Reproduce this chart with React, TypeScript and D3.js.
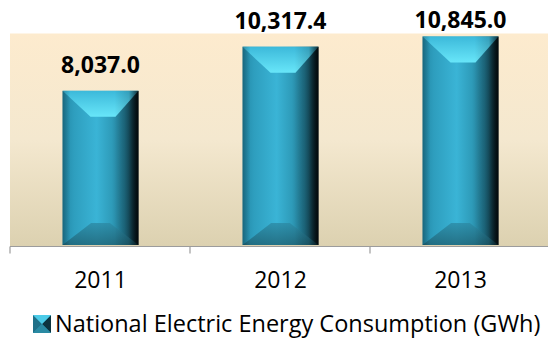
import React from "react";
import * as d3 from "d3";

const categories = ["2011", "2012", "2013"];
const values = [8037.0, 10317.4, 10845.0];
const seriesName = "National Electric Energy Consumption (GWh)";
const yMax = 11000;

const W = 548;
const H = 339;
const plot = { left: 10.5, right: 550.5, top: 33.5, bottom: 246.5 };
const FONT = "'Open Sans', Lato, sans-serif";

export default function App() {
  const x = d3
    .scaleBand<string>()
    .domain(categories)
    .range([plot.left, plot.right])
    .paddingInner(0.578)
    .paddingOuter(0.289);
  const y = d3.scaleLinear().domain([0, yMax]).range([plot.bottom, plot.top]);
  const step = x.step();
  const fmt = d3.format(",.1f");
  const tickXs = d3.range(categories.length + 1).map((i) => plot.left - 0.5 + i * step);

  return (
    <svg
      width={W}
      height={H}
      style={{ position: "absolute", left: 0, top: 0, background: "#fff" }}
      fontFamily={FONT}
    >
      <defs>
        <linearGradient id="bg" x1="0" y1="0" x2="0" y2="1">
          <stop offset="0" stopColor="#FDEBCE" />
          <stop offset="0.5" stopColor="#F4E8CF" />
          <stop offset="1" stopColor="#DCD1B0" />
        </linearGradient>
        <linearGradient id="barSide" x1="0" y1="0" x2="1" y2="0">
          <stop offset="0" stopColor="#2288A6" />
          <stop offset="0.15" stopColor="#2E9EBE" />
          <stop offset="0.45" stopColor="#3AB4D6" />
          <stop offset="0.65" stopColor="#2E9BB9" />
          <stop offset="0.82" stopColor="#1E6D84" />
          <stop offset="1" stopColor="#0A2028" />
        </linearGradient>
        <linearGradient id="barTop" x1="0" y1="0" x2="0" y2="1">
          <stop offset="0" stopColor="#3CB9DA" />
          <stop offset="1" stopColor="#68E6F9" />
        </linearGradient>
        <linearGradient id="barBottom" x1="0" y1="0" x2="0" y2="1">
          <stop offset="0" stopColor="#2C8BA6" />
          <stop offset="1" stopColor="#1F6274" />
        </linearGradient>
        <linearGradient id="barRight" x1="0" y1="0" x2="1" y2="0">
          <stop offset="0" stopColor="#000" stopOpacity="0" />
          <stop offset="0.6" stopColor="#000" stopOpacity="0.15" />
          <stop offset="1" stopColor="#000" stopOpacity="0.75" />
        </linearGradient>
        <linearGradient id="barLeft" x1="0" y1="0" x2="1" y2="0">
          <stop offset="0" stopColor="#000" stopOpacity="0.25" />
          <stop offset="1" stopColor="#000" stopOpacity="0" />
        </linearGradient>
      </defs>

      <rect
        x={plot.left - 0.5}
        y={plot.top}
        width={W - plot.left + 0.5}
        height={plot.bottom - plot.top}
        fill="url(#bg)"
      />

      {categories.map((c, i) => {
        const x0 = x(c)!;
        const bw = x.bandwidth();
        const x1 = x0 + bw;
        const top = y(values[i]);
        const bot = plot.bottom - 1.5;
        const d = 26;
        const db = 22;
        const labelY = Math.max(top - 18, 28);
        return (
          <g key={c}>
            <rect x={x0} y={top} width={bw} height={bot - top} fill="url(#barSide)" />
            <polygon
              points={`${x0},${top} ${x1},${top} ${x1 - d + 3},${top + d} ${x0 + d + 2},${top + d}`}
              fill="url(#barTop)"
            />
            <polygon
              points={`${x0},${bot} ${x1},${bot} ${x1 - db * 1.3},${bot - db} ${x0 + db * 1.3},${bot - db}`}
              fill="url(#barBottom)"
              opacity={0.8}
            />
            <rect x={x0} y={top} width={8} height={bot - top} fill="url(#barLeft)" />
            <rect x={x1 - 24} y={top} width={24} height={bot - top} fill="url(#barRight)" />
            <text
              x={x0 + bw / 2}
              y={labelY}
              textAnchor="middle"
              fontWeight="bold"
              fontSize={23}
              fill="#000"
            >
              {fmt(values[i])}
            </text>
          </g>
        );
      })}

      <line x1={plot.left - 0.5} x2={W} y1={plot.bottom} y2={plot.bottom} stroke="#9C9C9C" strokeWidth={1.2} />
      {tickXs.map((t, i) => (
        <line key={i} x1={t} x2={t} y1={plot.bottom} y2={plot.bottom + 7} stroke="#9C9C9C" strokeWidth={1.2} />
      ))}

      {categories.map((c) => (
        <text key={c} x={x(c)! + x.bandwidth() / 2} y={288} textAnchor="middle" fontSize={23} fill="#000">
          {c}
        </text>
      ))}

      <g>
        <rect x={33} y={315} width={18} height={18} fill="#2A94B2" />
        <polygon points="33,315 42,324 33,333" fill="#1F7088" />
        <polygon points="51,315 42,324 51,333" fill="#0D3440" />
        <polygon points="33,315 51,315 42,324" fill="#4CCBE8" />
        <polygon points="33,333 51,333 42,324" fill="#2A8AA3" />
        <text x={55} y={332} fontSize={23.5} fill="#000">
          {seriesName}
        </text>
      </g>
    </svg>
  );
}
